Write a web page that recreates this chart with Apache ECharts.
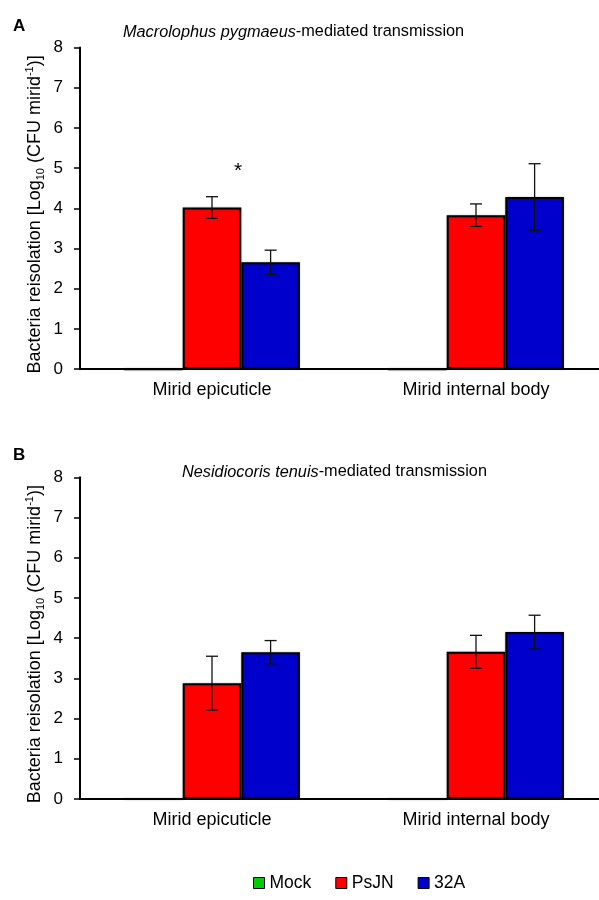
<!DOCTYPE html>
<html>
<head>
<meta charset="utf-8">
<script src="https://cdn.jsdelivr.net/npm/echarts@6/dist/echarts.min.js"></script>
<style>
html,body{margin:0;padding:0;background:#fff;}
#chart{width:599px;height:900px;}
</style>
</head>
<body>
<div id="chart"></div>
<script>
// ---- data ----
const categories = ['Mirid epicuticle', 'Mirid internal body'];
const seriesNames = ['Mock', 'PsJN', '32A'];
const seriesColors = ['#00CC00', '#FF0000', '#0000CC'];

// Panel A: Macrolophus pygmaeus
const mockA = [0, 0];
const psjnA = [4.02, 3.83];
const s32A_A = [2.66, 4.28];
const mockErrA = [0, 0];
const psjnErrA = [0.27, 0.28];
const s32ErrA = [0.30, 0.83];
const sigA = ['*', ''];   // significance marks above PsJN/32A pair

// Panel B: Nesidiocoris tenuis
const mockB = [0, 0];
const psjnB = [2.88, 3.66];
const s32A_B = [3.65, 4.15];
const mockErrB = [0, 0];
const psjnErrB = [0.67, 0.41];
const s32ErrB = [0.29, 0.42];

const yMin = 0, yMax = 8, yInterval = 1;

// ---- styling ----
const FONT = "'Liberation Sans', Arial, sans-serif";
const BAR_FRAC = 0.222;

function renderErr(params, api) {
  const cat = api.value(0), v = api.value(1), e = api.value(2), k = api.value(3);
  if (!e) return null;
  const band = api.size([1, 0])[0];
  const cx = api.coord([cat, v])[0] + (k - 1) * band * BAR_FRAC;
  const yt = api.coord([cat, v + e])[1];
  const yb = api.coord([cat, v - e])[1];
  const hw = 6;
  const st = { stroke: '#111', lineWidth: 1.3 };
  return {
    type: 'group',
    children: [
      { type: 'line', shape: { x1: cx, y1: yt, x2: cx, y2: yb }, style: st },
      { type: 'line', shape: { x1: cx - hw, y1: yt, x2: cx + hw, y2: yt }, style: st },
      { type: 'line', shape: { x1: cx - hw, y1: yb, x2: cx + hw, y2: yb }, style: st }
    ]
  };
}

function barSeries(name, idx, vals, axisIdx, sig) {
  return {
    name: name,
    type: 'bar',
    xAxisIndex: axisIdx,
    yAxisIndex: axisIdx,
    barWidth: (BAR_FRAC * 100) + '%',
    barGap: '0%',
    itemStyle: {
      color: seriesColors[idx],
      borderColor: '#000',
      borderWidth: 2,
      shadowColor: 'rgba(0,0,0,0.25)',
      shadowBlur: 2
    },
    data: vals.map((v, i) => {
      if (sig && sig[i]) {
        return {
          value: v,
          label: {
            show: true, formatter: sig[i], position: 'top',
            offset: [26, -21], fontSize: 21, color: '#000', fontFamily: FONT
          }
        };
      }
      return v;
    })
  };
}

function errSeries(axisIdx, vals, errs, k) {
  return {
    type: 'custom',
    xAxisIndex: axisIdx,
    yAxisIndex: axisIdx,
    renderItem: renderErr,
    encode: { x: 0, y: 1 },
    z: 10,
    silent: true,
    data: vals.map((v, i) => [i, v, errs[i], k])
  };
}

const yName = '{n|Bacteria reisolation [Log}{s|10}{n| (CFU mirid}{p|-1}{n|)]}';

function yAxis(gi) {
  return {
    type: 'value',
    gridIndex: gi,
    min: yMin, max: yMax, interval: yInterval,
    name: yName,
    nameLocation: 'middle',
    nameGap: 34,
    nameMoveOverlap: false,
    nameTextStyle: {
      color: '#000', fontFamily: FONT, fontSize: 18,
      padding: [0, 12, 0, 0],
      rich: {
        n: { fontSize: 18, lineHeight: 22, fontFamily: FONT, color: '#000' },
        s: { fontSize: 11, lineHeight: 13, verticalAlign: 'bottom', fontFamily: FONT, color: '#000' },
        p: { fontSize: 11, lineHeight: 13, verticalAlign: 'top', fontFamily: FONT, color: '#000' }
      }
    },
    axisLine: { show: true, lineStyle: { color: '#000', width: 2 } },
    axisTick: { show: true, length: 6, lineStyle: { color: '#000', width: 1.5 } },
    axisLabel: { color: '#000', fontSize: 17, fontFamily: FONT, margin: 17 },
    splitLine: { show: false }
  };
}

function xAxis(gi) {
  return {
    type: 'category',
    gridIndex: gi,
    data: categories,
    axisLine: { show: true, lineStyle: { color: '#000', width: 2 } },
    axisTick: { show: false },
    axisLabel: { color: '#000', fontSize: 18, fontFamily: FONT, margin: 12 }
  };
}

function titleRich() {
  return {
    i: { fontStyle: 'italic', fontWeight: 'normal', fontSize: 16.3, color: '#000', fontFamily: FONT },
    n: { fontWeight: 'normal', fontSize: 16.3, color: '#000', fontFamily: FONT }
  };
}

const option = {
  backgroundColor: '#fff',
  animation: false,
  textStyle: { fontFamily: FONT },
  title: [
    { text: 'A', left: 8, top: 13, textStyle: { fontSize: 17, fontWeight: 'bold', color: '#000', fontFamily: FONT } },
    { text: 'B', left: 8, top: 442, textStyle: { fontSize: 17, fontWeight: 'bold', color: '#000', fontFamily: FONT } },
    {
      text: '{i|Macrolophus pygmaeus}{n|-mediated transmission}', left: 123, top: 24, padding: 0,
      textStyle: { fontWeight: 'normal', rich: titleRich() }
    },
    {
      text: '{i|Nesidiocoris tenuis}{n|-mediated transmission}', left: 182, top: 464, padding: 0,
      textStyle: { fontWeight: 'normal', rich: titleRich() }
    }
  ],
  legend: {
    data: seriesNames,
    left: 253, top: 874, padding: 0,
    itemWidth: 11, itemHeight: 11, itemGap: 24,
    icon: 'rect',
    itemStyle: { borderColor: '#000', borderWidth: 1 },
    textStyle: { fontSize: 17.5, color: '#000', fontFamily: FONT }
  },
  grid: [
    { left: 80, top: 47.5, width: 528, height: 321.7, outerBoundsMode: 'none' },
    { left: 80, top: 477.3, width: 528, height: 321.7, outerBoundsMode: 'none' }
  ],
  xAxis: [xAxis(0), xAxis(1)],
  yAxis: [yAxis(0), yAxis(1)],
  series: [
    barSeries('Mock', 0, mockA, 0),
    barSeries('PsJN', 1, psjnA, 0, sigA),
    barSeries('32A', 2, s32A_A, 0),
    errSeries(0, mockA, mockErrA, 0),
    errSeries(0, psjnA, psjnErrA, 1),
    errSeries(0, s32A_A, s32ErrA, 2),
    barSeries('Mock', 0, mockB, 1),
    barSeries('PsJN', 1, psjnB, 1),
    barSeries('32A', 2, s32A_B, 1),
    errSeries(1, mockB, mockErrB, 0),
    errSeries(1, psjnB, psjnErrB, 1),
    errSeries(1, s32A_B, s32ErrB, 2)
  ]
};

const chart = echarts.init(document.getElementById('chart'), null, { renderer: 'canvas' });
chart.setOption(option);
</script>
</body>
</html>
